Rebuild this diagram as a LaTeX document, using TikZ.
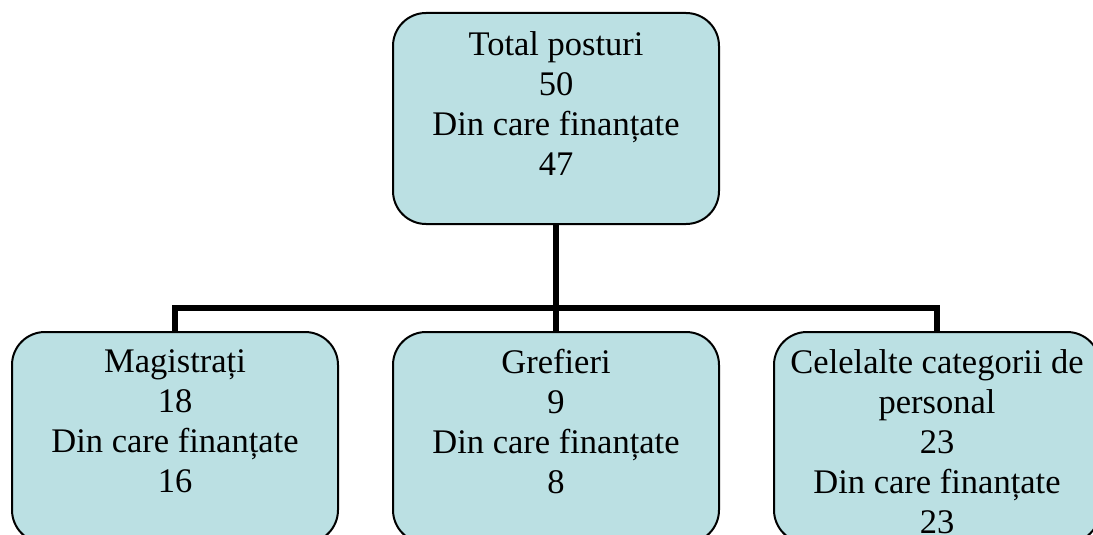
\documentclass[tikz,border=0pt]{standalone}
\usepackage{fontspec}
\setmainfont{Liberation Serif}
\usepackage{xcolor}
\usepackage{tikz}
\usetikzlibrary{calc}

\definecolor{boxblue}{RGB}{187,224,227}

\begin{document}
\begin{tikzpicture}[x=1pt, y=1pt,
        card/.style={draw=black, line width=2pt, fill=boxblue, rounded corners=33pt,
                     minimum width=326pt, minimum height=211pt, inner sep=0pt},
        cardtext/.style={anchor=north, align=center, inner sep=0pt,
                         font=\fontsize{34.5}{40}\selectfont},
        link/.style={line width=6pt, draw=black}
    ]

        \useasboundingbox (0,0) rectangle (1093,-535);

        \coordinate (bus) at (556,-308);

        \node[card] (total) at (556,-118.5) {};
        \node[card] (magistrati) at (175,-437.5) {};
        \node[card] (grefieri) at (556,-437.5) {};
        \node[card] (celelalte) at (937,-437.5) {};

        % links
        \draw[link] (total.south) -- (bus);
        \draw[link] (magistrati.north) |- (bus) -| (celelalte.north);
        \draw[link] (bus) -- (grefieri.north);

        \node[cardtext] (totaltxt) at ($(total.north)+(0,-19)$)
            {Total posturi\\50\\Din care finanțate\\47};
        \node[cardtext] (magistratitxt) at ($(magistrati.north)+(0,-18)$)
            {Magistrați\\18\\Din care finanțate\\16};
        \node[cardtext] (grefieritxt) at ($(grefieri.north)+(0,-18)$)
            {Grefieri\\9\\Din care finanțate\\8};
        \node[cardtext] (celelaltetxt) at ($(celelalte.north)+(0,-18)$)
            {Celelalte categorii de\\personal\\23\\Din care finanțate\\23};
\end{tikzpicture}
\end{document}
